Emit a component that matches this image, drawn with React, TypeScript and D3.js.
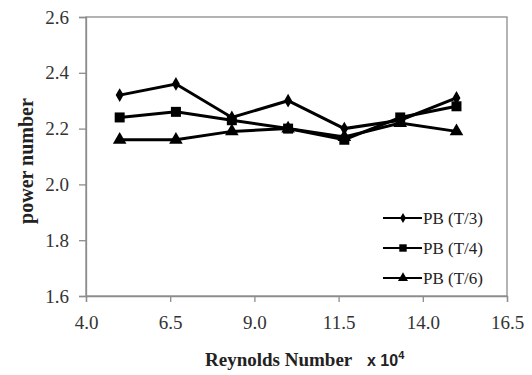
import React, { useEffect, useRef } from 'react';
import * as d3 from 'd3';

// Reynolds number (x10^4) and power number for three impeller clearances
const reynolds = [5.0, 6.67, 8.33, 10.0, 11.67, 13.33, 15.0];
const pbT3 = [2.32, 2.36, 2.24, 2.3, 2.2, 2.23, 2.31];
const pbT4 = [2.24, 2.26, 2.23, 2.2, 2.16, 2.24, 2.28];
const pbT6 = [2.16, 2.16, 2.19, 2.2, 2.17, 2.22, 2.19];
const seriesNames = ['PB (T/3)', 'PB (T/4)', 'PB (T/6)'];
const xTicks = [4.0, 6.5, 9.0, 11.5, 14.0, 16.5];
const yTicks = [1.6, 1.8, 2.0, 2.2, 2.4, 2.6];

const W = 532;
const H = 375;

export default function App() {
  const svgRef = useRef<SVGSVGElement>(null);

  useEffect(() => {
    if (!svgRef.current) return;
    const svg = d3.select(svgRef.current);
    svg.selectAll('*').remove();

    const margin = { top: 17, right: 25, bottom: 79, left: 86 };
    const innerW = W - margin.left - margin.right;
    const innerH = H - margin.top - margin.bottom;
    const font = "'Liberation Serif', 'Times New Roman', serif";
    const axisColor = '#8c8c8c';

    const x = d3.scaleLinear().domain([4.0, 16.5]).range([0, innerW]);
    const y = d3.scaleLinear().domain([1.6, 2.6]).range([innerH, 0]);

    const g = svg.append('g').attr('transform', `translate(${margin.left},${margin.top})`);

    // frame
    g.append('rect')
      .attr('width', innerW)
      .attr('height', innerH)
      .attr('fill', 'none')
      .attr('stroke', axisColor)
      .attr('stroke-width', 1.3);

    // x axis
    const xAxis = g
      .append('g')
      .attr('transform', `translate(0,${innerH})`)
      .call(
        d3
          .axisBottom(x)
          .tickValues(xTicks)
          .tickSize(6)
          .tickPadding(14)
          .tickFormat((d) => d3.format('.1f')(Number(d)))
      );
    xAxis.attr('font-family', font);
    xAxis.select('.domain').attr('stroke', axisColor).attr('stroke-width', 1.3);
    xAxis.selectAll('line').attr('stroke', axisColor).attr('stroke-width', 1.3);
    xAxis
      .selectAll('text')
      .style('font-family', font)
      .attr('font-size', 19)
      .attr('fill', '#333');

    // y axis
    const yAxis = g.append('g').call(
      d3
        .axisLeft(y)
        .tickValues(yTicks)
        .tickSize(7)
        .tickPadding(10)
        .tickFormat((d) => d3.format('.1f')(Number(d)))
    );
    yAxis.attr('font-family', font);
    yAxis.select('.domain').attr('stroke', axisColor).attr('stroke-width', 1.3);
    yAxis.selectAll('line').attr('stroke', axisColor).attr('stroke-width', 1.3);
    yAxis
      .selectAll('text')
      .style('font-family', font)
      .attr('font-size', 19)
      .attr('fill', '#333');

    // axis titles
    svg
      .append('text')
      .attr('transform', `translate(33,161) rotate(-90)`)
      .attr('text-anchor', 'middle')
      .style('font-family', font)
      .attr('font-size', 20)
      .attr('font-weight', 'bold')
      .attr('fill', '#222')
      .text('power number');

    svg
      .append('text')
      .attr('x', 205)
      .attr('y', 366)
      .style('font-family', font)
      .attr('font-size', 19)
      .attr('font-weight', 'bold')
      .attr('fill', '#222')
      .text('Reynolds Number');
    const xt = svg
      .append('text')
      .attr('x', 367)
      .attr('y', 366)
      .style('font-family', "'Liberation Sans', Arial, sans-serif")
      .attr('font-size', 16)
      .attr('font-weight', 'bold')
      .attr('fill', '#222');
    xt.append('tspan').text('x 10');
    xt.append('tspan').attr('dy', -7).attr('font-size', 11).text('4');

    const series = [pbT3, pbT4, pbT6];
    const symbols = [d3.symbolDiamond, d3.symbolSquare, d3.symbolTriangle];
    const symSizes = [55, 100, 80];

    const line = d3
      .line<number>()
      .x((_, i) => x(reynolds[i]))
      .y((d) => y(d));

    series.forEach((vals, si) => {
      g.append('path')
        .datum(vals)
        .attr('d', line)
        .attr('fill', 'none')
        .attr('stroke', '#000')
        .attr('stroke-width', 3);
      g.selectAll(`.m${si}`)
        .data(vals)
        .enter()
        .append('path')
        .attr('transform', (d, i) => `translate(${x(reynolds[i])},${y(d)})`)
        .attr('d', d3.symbol(symbols[si], symSizes[si]))
        .attr('fill', '#000');
    });

    // legend
    const legend = svg.append('g').attr('transform', 'translate(383,218)');
    seriesNames.forEach((name, i) => {
      const row = legend.append('g').attr('transform', `translate(0,${i * 30})`);
      row
        .append('line')
        .attr('x1', 0)
        .attr('x2', 39)
        .attr('stroke', '#000')
        .attr('stroke-width', 2);
      row
        .append('path')
        .attr('transform', 'translate(20,0)')
        .attr('d', d3.symbol(symbols[i], symSizes[i] * 0.55))
        .attr('fill', '#000');
      row
        .append('text')
        .attr('x', 40)
        .attr('y', 6)
        .style('font-family', font)
        .attr('font-size', 17)
        .attr('fill', '#222')
        .text(name);
    });
  }, []);

  return (
    <svg
      ref={svgRef}
      width={W}
      height={H}
      style={{ position: 'absolute', left: 0, top: 0, background: '#fff' }}
    />
  );
}
